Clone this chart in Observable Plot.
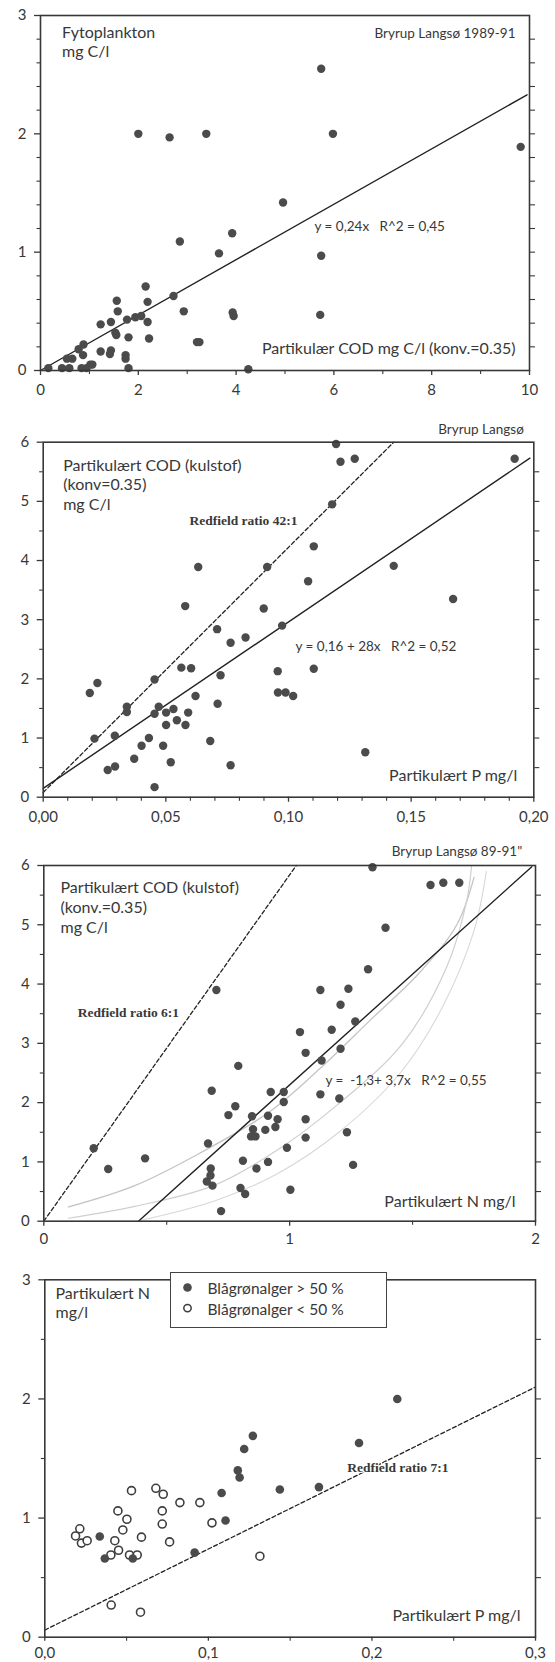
<!DOCTYPE html>
<html>
<head>
<meta charset="utf-8">
<script src="https://cdn.jsdelivr.net/npm/d3@7"></script>
<script src="https://cdn.jsdelivr.net/npm/@observablehq/plot@0.6"></script>
<style>
  body { margin: 0; background: #fff; }
  #wrap { position: relative; width: 555px; height: 1662px; overflow: hidden; background: #fff; }
  #wrap > svg { display: block; }
  .legend { position: absolute; box-sizing: border-box; border: 1.5px solid #444; background: #fff; }
  .legend svg { position: absolute; left: 0; top: 0; overflow: visible; }
</style>
</head>
<body>
<div id="wrap"></div>
<script>
// ---------------- DATA ----------------
// Panel 1: Fytoplankton (mg C/l) vs particulate COD (mg C/l)
const p1CodX = [2.0, 2.64, 3.39, 2.85, 3.92, 3.65, 2.15, 1.56, 2.19, 1.58, 2.72, 2.93, 3.93, 3.95, 1.94, 2.06, 1.77, 1.23, 1.44, 2.19, 1.53, 1.55, 1.80, 2.22, 3.20, 3.25, 1.23, 1.44, 1.42, 1.74, 1.74, 0.88, 0.78, 0.87, 0.54, 0.65, 0.16, 0.44, 0.59, 0.84, 0.94, 1.02, 1.06, 1.80, 4.25, 5.74, 5.98, 9.82, 4.96, 5.74, 5.72];
const p1FytoY = [2.0, 1.97, 2.0, 1.09, 1.16, 0.99, 0.71, 0.59, 0.58, 0.50, 0.63, 0.50, 0.49, 0.46, 0.45, 0.46, 0.43, 0.39, 0.41, 0.41, 0.32, 0.30, 0.28, 0.27, 0.24, 0.24, 0.16, 0.17, 0.14, 0.13, 0.10, 0.22, 0.18, 0.13, 0.10, 0.10, 0.02, 0.02, 0.02, 0.02, 0.02, 0.05, 0.05, 0.02, 0.01, 2.55, 2.0, 1.89, 1.42, 0.97, 0.47];
const p1FitX = [0, 9.95];
const p1FitY = [0, 2.33];
const p1XTicks = [0, 2, 4, 6, 8, 10];
const p1XTickLabels = ["0", "2", "4", "6", "8", "10"];
const p1YTicks = [0, 1, 2, 3];
const p1YTickLabels = ["0", "1", "2", "3"];
const p1Texts = ["Fytoplankton", "mg C/l", "Bryrup Langsø 1989-91", "y = 0,24x\u00a0\u00a0\u00a0R^2 = 0,45", "Partikulær COD mg C/l (konv.=0.35)"];

// Panel 2: particulate COD vs particulate P
const p2PX = [0.0190, 0.0221, 0.0209, 0.0292, 0.0263, 0.0293, 0.0341, 0.0341, 0.0371, 0.0401, 0.0431, 0.0454, 0.0454, 0.0471, 0.0454, 0.0489, 0.0501, 0.0501, 0.0520, 0.0531, 0.0545, 0.0579, 0.0563, 0.0580, 0.0591, 0.0603, 0.0621, 0.0632, 0.0681, 0.0709, 0.0723, 0.0711, 0.0764, 0.0764, 0.0825, 0.0899, 0.0913, 0.0956, 0.0957, 0.0974, 0.0988, 0.1019, 0.1103, 0.1080, 0.1103, 0.1178, 0.1194, 0.1212, 0.1270, 0.1429, 0.1671, 0.1922, 0.1313];
const p2CodY = [1.76, 1.93, 0.99, 1.04, 0.46, 0.52, 1.53, 1.44, 0.65, 0.87, 1.00, 1.99, 1.41, 1.53, 0.17, 0.87, 1.43, 1.22, 0.59, 1.49, 1.30, 3.23, 2.19, 1.22, 1.43, 2.18, 1.71, 3.89, 0.95, 2.84, 2.06, 1.58, 2.61, 0.54, 2.70, 3.19, 3.89, 2.13, 1.77, 2.90, 1.77, 1.71, 2.17, 3.65, 4.24, 4.95, 5.97, 5.67, 5.72, 3.91, 3.35, 5.72, 0.76];
const p2FitX = [0, 0.1984];
const p2FitY = [0.15, 5.73];
const p2RedfieldX = [0, 0.1429];
const p2RedfieldY = [0.08, 6.0];
const p2XTicks = [0, 0.05, 0.1, 0.15, 0.2];
const p2XTickLabels = ["0,00", "0,05", "0,10", "0,15", "0,20"];
const p2YTicks = [0, 1, 2, 3, 4, 5, 6];
const p2YTickLabels = ["0", "1", "2", "3", "4", "5", "6"];
const p2Texts = ["Partikulært COD (kulstof)", "(konv=0.35)", "mg C/l", "Redfield ratio 42:1", "Bryrup Langsø", "y = 0,16 + 28x\u00a0\u00a0\u00a0R^2 = 0,52", "Partikulært P mg/l"];

// Panel 3: particulate COD vs particulate N
const p3NX = [0.203, 0.262, 0.412, 0.702, 0.791, 0.683, 0.779, 0.751, 0.668, 0.679, 0.678, 0.663, 0.686, 0.721, 0.800, 0.819, 0.810, 0.865, 0.847, 0.851, 0.843, 0.861, 0.901, 0.912, 0.923, 0.912, 0.942, 0.951,
  1.337, 1.573, 1.625, 1.690, 1.390, 1.319, 1.125, 1.239, 1.207, 1.267, 1.042, 1.171, 1.065, 1.207, 1.130, 1.125, 1.202, 0.976, 0.976, 1.065, 1.065, 0.989, 1.233, 1.258, 1.003];
const p3CodY = [1.23, 0.88, 1.06, 3.90, 2.62, 2.20, 1.94, 1.79, 1.31, 0.89, 0.77, 0.67, 0.60, 0.17, 0.56, 0.46, 1.02, 0.89, 1.77, 1.55, 1.43, 1.43, 1.54, 1.78, 2.18, 1.00, 1.59, 1.72,
  5.97, 5.67, 5.71, 5.71, 4.95, 4.25, 3.90, 3.92, 3.65, 3.37, 3.19, 3.23, 2.84, 2.91, 2.71, 2.14, 2.07, 2.18, 2.01, 1.72, 1.41, 1.24, 1.50, 0.95, 0.53];
const p3FitX = [0.385, 1.985];
const p3FitY = [0, 5.98];
const p3RedfieldX = [0, 1.027];
const p3RedfieldY = [0, 6.0];
// faint hand-drawn pencil curves visible on the scan
const p3PencilAX = [0.10, 0.37, 0.64, 0.92, 1.13, 1.33, 1.53, 1.68, 1.75];
const p3PencilAY = [0.24, 0.60, 1.16, 1.85, 2.60, 3.40, 4.20, 5.00, 5.80];
const p3PencilBX = [0.10, 0.37, 0.69, 0.95, 1.19, 1.46, 1.64, 1.72, 1.74];
const p3PencilBY = [0.05, 0.25, 0.60, 1.20, 1.95, 3.00, 4.30, 5.40, 6.00];
const p3PencilCX = [0.40, 0.70, 0.95, 1.20, 1.45, 1.62, 1.75, 1.80];
const p3PencilCY = [0.02, 0.35, 0.80, 1.50, 2.50, 3.60, 4.90, 5.90];
const p3XTicks = [0, 1, 2];
const p3XTickLabels = ["0", "1", "2"];
const p3YTicks = [0, 1, 2, 3, 4, 5, 6];
const p3YTickLabels = ["0", "1", "2", "3", "4", "5", "6"];
const p3Texts = ["Partikulært COD (kulstof)", "(konv.=0.35)", "mg C/l", "Redfield ratio 6:1", "Bryrup Langsø 89-91\"", "y =\u00a0\u00a0-1,3+ 3,7x\u00a0\u00a0\u00a0R^2 = 0,55", "Partikulært N mg/l"];

// Panel 4: particulate N vs particulate P, by blue-green algae share
const p4HighPX = [0.0336, 0.0367, 0.0538, 0.0916, 0.1081, 0.1105, 0.1180, 0.1191, 0.1219, 0.1272, 0.1437, 0.1676, 0.1921, 0.2155];
const p4HighNY = [0.845, 0.66, 0.66, 0.71, 1.21, 0.98, 1.40, 1.34, 1.58, 1.69, 1.24, 1.26, 1.63, 2.00];
const p4LowPX = [0.0188, 0.0214, 0.0224, 0.0259, 0.0406, 0.0404, 0.0428, 0.0447, 0.0451, 0.0477, 0.0502, 0.0518, 0.0530, 0.0565, 0.0591, 0.0585, 0.0679, 0.0724, 0.0718, 0.0718, 0.0763, 0.0826, 0.0948, 0.1022, 0.1315];
const p4LowNY = [0.85, 0.91, 0.79, 0.81, 0.27, 0.69, 0.81, 1.06, 0.73, 0.90, 0.99, 0.69, 1.23, 0.69, 0.84, 0.21, 1.25, 1.20, 1.06, 0.95, 0.80, 1.13, 1.13, 0.96, 0.68];
const p4RedfieldX = [0, 0.3];
const p4RedfieldY = [0.06, 2.10];
const p4XTicks = [0, 0.1, 0.2, 0.3];
const p4XTickLabels = ["0,0", "0,1", "0,2", "0,3"];
const p4YTicks = [0, 1, 2, 3];
const p4YTickLabels = ["0", "1", "2", "3"];
const p4Texts = ["Partikulært N", "mg/l", "Redfield ratio 7:1", "Partikulært P mg/l"];
const p4LegendLabels = ["Blågrønalger > 50 %", "Blågrønalger < 50 %"];

// ---------------- STYLE ----------------
const FONT = "Lato, 'Noto Sans', sans-serif";
const SERIF = "'Liberation Serif', 'DejaVu Serif', serif";
const INK = "#383838";
const DOT = "#4b4b4b";
const pts = (X, Y) => X.map((x, i) => ({x, y: Y[i]}));
const between = (a, b, step, skip) => d3.range(a, b + step / 2, step).map(v => +v.toFixed(4)).filter(v => !skip.some(s => Math.abs(s - v) < 1e-9));

function txt(s, o) {
  return Plot.text([s], Object.assign({
    text: d => d, fill: INK, fontFamily: FONT, fontSize: 16, lineAnchor: "bottom"
  }, o));
}
function redfield(s, o) {
  return txt(s, Object.assign({fontFamily: SERIF, fontWeight: "bold", fontSize: 13.5, textAnchor: "start",
    frameAnchor: "top-left", stroke: "white", strokeWidth: 4}, o));
}

function panel(cfg) {
  const xf = d => cfg.xLabels[cfg.xTicks.indexOf(d)] ?? "";
  const yf = d => cfg.yLabels[cfg.yTicks.indexOf(d)] ?? "";
  const xPad = cfg.xPad ?? 9;
  const xSize = cfg.xSize ?? 5;
  const svg = Plot.plot({
    width: 555,
    height: cfg.height,
    marginTop: cfg.m[0], marginRight: cfg.m[1], marginBottom: cfg.m[2], marginLeft: cfg.m[3],
    x: {domain: cfg.xDomain},
    y: {domain: cfg.yDomain},
    style: {fontFamily: FONT, color: INK, background: "white", overflow: "visible"},
    marks: [
      ...cfg.marks,
      Plot.frame({stroke: INK, strokeWidth: 1.6}),
      Plot.axisY(cfg.yTicks, {tickSize: 6, tickPadding: 8, tickFormat: yf, fontSize: 15, label: null, strokeWidth: 1.3}),
      Plot.axisY(cfg.yMinor, {tickSize: 3.5, tickFormat: () => "", label: null, strokeWidth: 1.1}),
      Plot.axisY(cfg.yRight, {anchor: "right", tickSize: 5, tickFormat: () => "", label: null, strokeWidth: 1.1}),
      Plot.axisX(cfg.xTicks, {tickSize: xSize, tickPadding: xPad, tickFormat: xf, fontSize: 15, label: null, strokeWidth: 1.3}),
      Plot.axisX(cfg.xMinor, {tickSize: 4, tickFormat: () => "", label: null, strokeWidth: 1.1})
    ]
  });
  return svg;
}

const wrap = document.getElementById("wrap");

// ---------- Panel 1 ----------
wrap.appendChild(panel({
  height: 400, m: [15, 26, 30, 40],
  xDomain: [0, 10], yDomain: [0, 3],
  xTicks: p1XTicks, xLabels: p1XTickLabels, xMinor: [1, 3, 5, 7, 9],
  yTicks: p1YTicks, yLabels: p1YTickLabels,
  yMinor: between(0, 3, 0.2, p1YTicks), yRight: between(0.2, 2.8, 0.2, []),
  marks: [
    Plot.line(pts(p1FitX, p1FitY), {x: "x", y: "y", stroke: "#222", strokeWidth: 1.4}),
    Plot.dot(pts(p1CodX, p1FytoY), {x: "x", y: "y", r: 4.2, fill: DOT}),
    txt(p1Texts[0], {frameAnchor: "top-left", textAnchor: "start", dx: 21.5, dy: 22}),
    txt(p1Texts[1], {frameAnchor: "top-left", textAnchor: "start", dx: 21.5, dy: 41.5}),
    txt(p1Texts[2], {frameAnchor: "top-right", textAnchor: "end", dx: -14, dy: 22.5, fontSize: 13.5}),
    txt(p1Texts[3], {frameAnchor: "top-left", textAnchor: "start", dx: 274, dy: 215.5, fontSize: 13.5}),
    txt(p1Texts[4], {frameAnchor: "bottom-right", textAnchor: "end", dx: -14, dy: -16.5})
  ]
}));

// ---------- Panel 2 ----------
wrap.appendChild(panel({
  height: 430, m: [41.7, 21.7, 33.3, 42.7],
  xDomain: [0, 0.2], yDomain: [0, 6],
  xTicks: p2XTicks, xLabels: p2XTickLabels, xMinor: between(0, 0.2, 0.01, p2XTicks),
  yTicks: p2YTicks, yLabels: p2YTickLabels,
  yMinor: between(0, 6, 0.5, p2YTicks), yRight: between(0.5, 5.5, 0.5, []),
  marks: [
    Plot.line(pts(p2RedfieldX, p2RedfieldY), {x: "x", y: "y", stroke: "#222", strokeWidth: 1.3, strokeDasharray: "4 2.5"}),
    Plot.line(pts(p2FitX, p2FitY), {x: "x", y: "y", stroke: "#222", strokeWidth: 1.4}),
    Plot.dot(pts(p2PX, p2CodY), {x: "x", y: "y", r: 4.2, fill: DOT}),
    redfield(p2Texts[3], {dx: 146.3, dy: 82.6}),
    txt(p2Texts[0], {frameAnchor: "top-left", textAnchor: "start", dx: 20, dy: 28.3}),
    txt(p2Texts[1], {frameAnchor: "top-left", textAnchor: "start", dx: 20, dy: 47.8}),
    txt(p2Texts[2], {frameAnchor: "top-left", textAnchor: "start", dx: 20, dy: 68}),
    txt(p2Texts[4], {frameAnchor: "top-right", textAnchor: "end", dx: -10, dy: -8.4, fontSize: 13.5}),
    txt(p2Texts[5], {frameAnchor: "top-left", textAnchor: "start", dx: 252.3, dy: 209, fontSize: 13.5}),
    txt(p2Texts[6], {frameAnchor: "bottom-right", textAnchor: "end", dx: -16.6, dy: -16})
  ]
}));

// ---------- Panel 3 ----------
wrap.appendChild(panel({
  height: 415, m: [35, 20, 24.3, 43.3],
  xDomain: [0, 2], yDomain: [0, 6],
  xTicks: p3XTicks, xLabels: p3XTickLabels, xMinor: [0.5, 1.5], xPad: 7,
  yTicks: p3YTicks, yLabels: p3YTickLabels,
  yMinor: between(0, 6, 0.5, p3YTicks), yRight: between(0.5, 5.5, 0.5, []),
  marks: [
    Plot.line(pts(p3PencilAX, p3PencilAY), {x: "x", y: "y", stroke: "#c4c4c4", strokeWidth: 1.3, curve: "catmull-rom"}),
    Plot.line(pts(p3PencilBX, p3PencilBY), {x: "x", y: "y", stroke: "#cfcfcf", strokeWidth: 1.2, curve: "catmull-rom"}),
    Plot.line(pts(p3PencilCX, p3PencilCY), {x: "x", y: "y", stroke: "#d8d8d8", strokeWidth: 1.1, curve: "catmull-rom"}),
    Plot.line(pts(p3RedfieldX, p3RedfieldY), {x: "x", y: "y", stroke: "#222", strokeWidth: 1.3, strokeDasharray: "4 2.5"}),
    Plot.line(pts(p3FitX, p3FitY), {x: "x", y: "y", stroke: "#222", strokeWidth: 1.4}),
    Plot.dot(pts(p3NX, p3CodY), {x: "x", y: "y", r: 4.2, fill: DOT}),
    redfield(p3Texts[3], {dx: 34, dy: 151.7}),
    txt(p3Texts[0], {frameAnchor: "top-left", textAnchor: "start", dx: 16.7, dy: 27.3}),
    txt(p3Texts[1], {frameAnchor: "top-left", textAnchor: "start", dx: 16.7, dy: 47.3}),
    txt(p3Texts[2], {frameAnchor: "top-left", textAnchor: "start", dx: 16.7, dy: 67.3}),
    txt(p3Texts[4], {frameAnchor: "top-right", textAnchor: "end", dx: -13.3, dy: -10, fontSize: 13.5}),
    txt(p3Texts[5], {frameAnchor: "top-left", textAnchor: "start", dx: 281.7, dy: 219.3, fontSize: 13.5}),
    txt(p3Texts[6], {frameAnchor: "bottom-right", textAnchor: "end", dx: -20, dy: -14})
  ]
}));

// ---------- Panel 4 ----------
wrap.appendChild(panel({
  height: 417, m: [34.3, 20, 25.3, 44.3],
  xDomain: [0, 0.3], yDomain: [0, 3],
  xTicks: p4XTicks, xLabels: p4XTickLabels, xMinor: [0.05, 0.15, 0.25], xSize: 4, xPad: 6,
  yTicks: p4YTicks, yLabels: p4YTickLabels,
  yMinor: [0.5, 1.5, 2.5], yRight: between(0.5, 2.5, 0.5, []),
  marks: [
    Plot.line(pts(p4RedfieldX, p4RedfieldY), {x: "x", y: "y", stroke: "#222", strokeWidth: 1.3, strokeDasharray: "4 2.5"}),
    Plot.dot(pts(p4LowPX, p4LowNY), {x: "x", y: "y", r: 4, fill: "white", stroke: "#3e3e3e", strokeWidth: 1.6}),
    Plot.dot(pts(p4HighPX, p4HighNY), {x: "x", y: "y", r: 4.3, fill: DOT}),
    redfield(p4Texts[2], {dx: 302.4, dy: 192.4, strokeWidth: 2}),
    txt(p4Texts[0], {frameAnchor: "top-left", textAnchor: "start", dx: 10.7, dy: 19}),
    txt(p4Texts[1], {frameAnchor: "top-left", textAnchor: "start", dx: 10.7, dy: 38.5}),
    txt(p4Texts[3], {frameAnchor: "bottom-right", textAnchor: "end", dx: -15, dy: -16})
  ]
}));

// ---------- Legend of panel 4 ----------
const lg = document.createElement("div");
lg.className = "legend";
Object.assign(lg.style, {left: "170px", top: "1271.7px", width: "216.7px", height: "56.6px"});
const ns = "http://www.w3.org/2000/svg";
const ls = document.createElementNS(ns, "svg");
ls.setAttribute("width", "214");
ls.setAttribute("height", "54");
const mk = (tag, attrs) => { const e = document.createElementNS(ns, tag); for (const k in attrs) e.setAttribute(k, attrs[k]); ls.appendChild(e); return e; };
mk("circle", {cx: 16.5, cy: 14.5, r: 4.3, fill: DOT});
mk("circle", {cx: 16.5, cy: 35.1, r: 3.7, fill: "white", stroke: "#3e3e3e", "stroke-width": 1.5});
p4LegendLabels.forEach((s, i) => {
  const t = mk("text", {x: 36.5, y: 21 + i * 20.6, fill: INK, "font-family": FONT, "font-size": 15.5});
  t.textContent = s;
});
lg.appendChild(ls);
wrap.appendChild(lg);
</script>
</body>
</html>
